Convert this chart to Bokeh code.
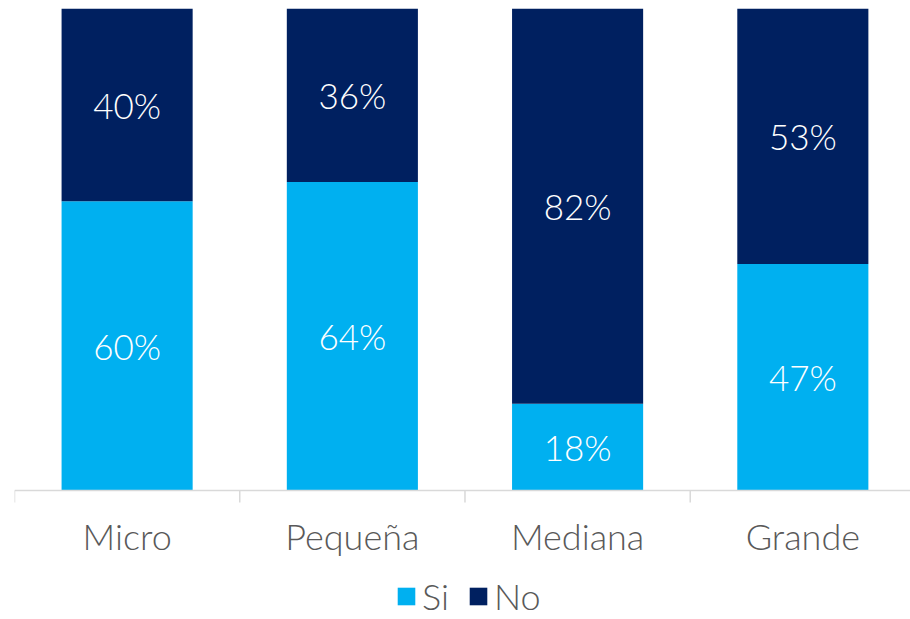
from bokeh.plotting import figure
from bokeh.models import ColumnDataSource, Range1d, Legend, LegendItem, Span
from bokeh.core.properties import value
from bokeh.embed import file_html
from bokeh.resources import INLINE

categories = ["Micro", "Pequeña", "Mediana", "Grande"]
si = [60, 64, 18, 47]
no = [40, 36, 82, 53]
series = ["Si", "No"]
colors = ["#00B0F0", "#002060"]

FONT = "Lato Light, Lato"
PX = 482  # pixels per 100 %

xs = [i + 0.5 for i in range(len(categories))]
bounds = list(range(len(categories) + 1))
src = ColumnDataSource(dict(
    x=xs,
    cat=categories,
    Si=[v / 100 for v in si],
    No=[v / 100 for v in no],
    si_lab=[f"{v}%" for v in si],
    no_lab=[f"{v}%" for v in no],
    si_y=[v / 200 for v in si],
    no_y=[(s + n / 2) / 100 for s, n in zip(si, no)],
))

p = figure(width=910, height=619, output_backend="svg", toolbar_location=None,
           x_range=Range1d(0, 3.978), y_range=Range1d(-129 / PX, 1),
           min_border_left=14, min_border_right=0, min_border_top=8, min_border_bottom=0)
p.outline_line_color = None
p.xgrid.visible = False
p.ygrid.visible = False
p.xaxis.visible = False
p.yaxis.visible = False

r = p.vbar_stack(series, x="x", width=0.582, color=colors, source=src, line_color=None)

p.text(x="x", y="si_y", text="si_lab", source=src, text_align="center", text_baseline="middle",
       text_color="white", text_font=value(FONT), text_font_size="35px")
p.text(x="x", y="no_y", text="no_lab", source=src, text_align="center", text_baseline="middle",
       text_color="white", text_font=value(FONT), text_font_size="35px")

# category axis: baseline, boundary ticks and labels
p.add_layout(Span(location=0, dimension="width", line_color="#D9D9D9", line_width=1.5))
p.segment(x0=bounds, y0=[0] * len(bounds), x1=bounds, y1=[-12 / PX] * len(bounds),
          line_color="#D9D9D9", line_width=1.5)
p.text(x="x", y=0, text="cat", source=src, y_offset=45, text_align="center", text_baseline="middle",
       text_color="#595959", text_font=value(FONT), text_font_size="36px")

legend = Legend(items=[LegendItem(label=s, renderers=[rr]) for s, rr in zip(series, r)],
                orientation="horizontal", location=(381, 1),
                label_text_font=FONT, label_text_font_size="36px", label_text_color="#595959",
                glyph_width=22, glyph_height=22, spacing=18, label_standoff=5,
                border_line_color=None, background_fill_alpha=0, padding=0, margin=0)
p.add_layout(legend)

open("out.html", "w").write(file_html(p, INLINE))
